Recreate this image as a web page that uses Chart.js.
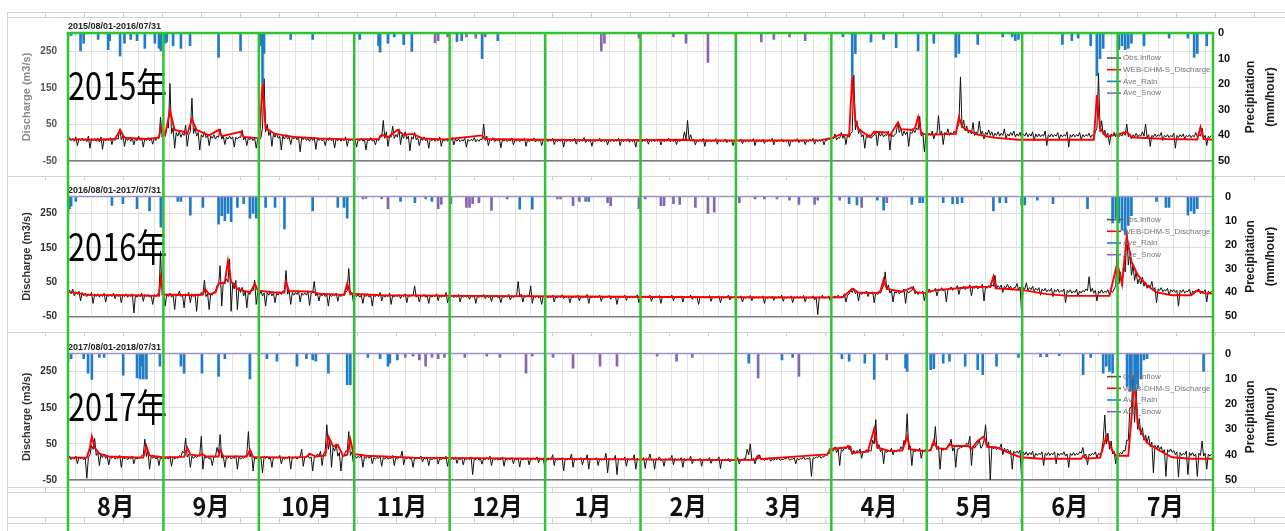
<!DOCTYPE html>
<html><head><meta charset="utf-8">
<script src="https://cdn.jsdelivr.net/npm/chart.js@4.4.1/dist/chart.umd.min.js"></script>
<style>
html,body{margin:0;padding:0;background:#fff;overflow:hidden}
#wrap{position:relative;width:1285px;height:531px}
canvas{position:absolute;left:0}
</style></head>
<body><div id="wrap">
<canvas id="bg" width="1285" height="531" style="top:0"></canvas>
<canvas id="c1" width="1285" height="178" style="top:0"></canvas>
<canvas id="c2" width="1285" height="157" style="top:178px"></canvas>
<canvas id="c3" width="1285" height="196" style="top:335px"></canvas>
</div>
<script>
// ---------- DATA ----------
const monthLabels = ['8月','9月','10月','11月','12月','1月','2月','3月','4月','5月','6月','7月'];
const leftTicks = [-50, 50, 150, 250];
const rightTicks = [0, 10, 20, 30, 40, 50];
const periodTitles = ['2015/08/01-2016/07/31','2016/08/01-2017/07/31','2017/08/01-2018/07/31'];
const yearLabels = ['2015年','2016年','2017年'];
const seriesNames = ['Obs.Inflow','WEB-DHM-S_Discharge','Ave_Rain','Ave_Snow'];

// observed inflow, daily [min, max] of hourly values (m3/s), day 0 = Aug 1
const obs2015 = [
[5,14],[6,12],[4,16],[-8,12],[6,13],[5,11],[3,18],[-15,12],[6,12],[4,13],[2,16],[-18,11],[5,12],[6,14],[-5,12],[6,12],[10,38],[8,20],[-10,13],[6,14],[4,12],[-6,12],[5,18],[6,12],[-12,12],[6,14],[5,12],[-4,13],[6,16],[12,70],[15,30],
[18,45],[40,162],[25,40],[-15,28],[18,30],[15,26],[20,48],[-10,22],[30,122],[25,40],[18,28],[-20,22],[15,30],[14,20],[-8,18],[12,22],[10,18],[15,38],[10,18],[-5,15],[10,18],[10,16],[-12,15],[10,16],[14,34],[8,16],[-8,14],[8,14],[6,12],[-15,12],
[8,14],[40,175],[30,50],[20,30],[-10,24],[15,26],[12,18],[-20,18],[10,22],[10,16],[-5,15],[10,18],[8,14],[-25,14],[8,16],[6,12],[4,14],[6,15],[-18,12],[6,12],[5,10],[-8,12],[6,14],[5,10],[-14,12],[5,12],[4,10],[5,16],[-10,10],[5,10],[4,9],
[-12,10],[5,12],[4,9],[-20,10],[5,14],[4,9],[-6,10],[5,20],[15,61],[12,30],[-10,18],[15,45],[12,22],[15,38],[-5,22],[12,30],[10,18],[-22,16],[10,28],[8,14],[-8,12],[6,16],[5,10],[-15,12],[5,12],[4,9],[5,16],[-10,10],[4,10],[4,8],
[5,14],[-6,10],[4,10],[3,8],[5,12],[-12,9],[4,9],[5,14],[2,9],[4,10],[8,51],[6,18],[-8,10],[5,14],[3,8],[5,12],[-14,9],[4,9],[3,8],[5,13],[-6,9],[4,10],[3,8],[5,12],[-10,9],[3,8],[5,13],[2,8],[4,10],[-8,8],[4,9],
[3,8],[4,12],[-5,8],[3,8],[4,11],[-12,8],[3,9],[3,7],[4,12],[-4,8],[3,8],[4,14],[0,8],[3,9],[-10,8],[3,8],[4,12],[2,8],[3,9],[-6,8],[3,10],[3,7],[4,12],[-8,8],[3,7],[4,11],[1,8],[3,8],[-12,8],[3,9],[3,7],
[4,11],[-4,8],[3,8],[3,7],[4,10],[-6,8],[3,7],[4,12],[2,8],[3,8],[-5,8],[3,9],[6,30],[10,61],[8,22],[4,10],[-6,8],[3,9],[4,12],[-10,8],[3,8],[3,7],[4,11],[-4,8],[3,7],[4,10],[0,7],[3,8],[-8,7],
[3,7],[4,10],[-3,8],[3,8],[3,7],[4,11],[-8,7],[3,7],[3,9],[-2,7],[3,8],[4,12],[-6,7],[3,7],[4,10],[2,7],[3,8],[-10,7],[3,7],[4,11],[0,7],[3,8],[-5,7],[3,9],[4,12],[-4,8],[3,8],[4,10],[-6,8],[6,12],[8,16],
[10,24],[8,14],[12,28],[12,22],[-5,22],[15,25],[30,185],[35,60],[25,38],[16,22],[-15,20],[14,22],[12,18],[20,32],[-8,28],[18,26],[16,22],[20,32],[-20,24],[16,22],[25,56],[28,40],[18,32],[22,30],[-10,30],[25,35],[28,40],[35,72],[18,28],[-25,24],
[18,26],[20,32],[10,26],[25,74],[22,32],[-5,28],[22,38],[20,28],[22,32],[24,42],[50,180],[40,62],[32,46],[26,34],[24,55],[20,30],[25,59],[22,32],[10,28],[22,35],[20,30],[15,26],[20,30],[18,26],[20,38],[10,24],[18,28],[20,32],[16,24],[18,28],[12,24],
[18,28],[16,24],[18,30],[5,24],[16,24],[16,22],[18,32],[-8,22],[16,24],[16,22],[18,28],[10,22],[16,22],[18,30],[-12,22],[16,24],[16,22],[18,28],[8,22],[16,22],[18,26],[14,22],[18,30],[40,190],[30,60],[22,34],[18,26],[-5,24],[18,28],[16,24],
[16,22],[18,30],[20,51],[16,24],[10,22],[16,26],[16,22],[18,30],[18,51],[14,22],[-10,20],[16,24],[16,22],[18,28],[6,20],[16,22],[14,20],[16,26],[-15,20],[14,22],[16,24],[10,20],[16,22],[14,20],[16,28],[16,22],[18,40],[12,20],[-8,18],[14,20]];
const obs2016 = [
[14,26],[16,30],[10,22],[14,24],[-5,20],[10,18],[8,16],[10,20],[-12,16],[8,16],[6,14],[8,18],[-8,14],[8,14],[8,18],[2,14],[8,14],[-10,14],[8,16],[6,12],[8,16],[-40,12],[6,14],[8,18],[-6,14],[8,14],[6,12],[-15,14],[8,16],[12,140],[12,22],
[-20,16],[8,18],[6,14],[-30,16],[10,24],[8,14],[-25,16],[10,20],[-10,16],[8,16],[-35,16],[10,20],[14,56],[8,16],[-30,16],[12,22],[20,40],[40,98],[-20,50],[45,60],[50,118],[-35,45],[30,55],[-30,35],[20,35],[10,24],[-25,22],[14,28],[25,56],[-15,22],
[12,24],[10,18],[-20,20],[12,22],[10,18],[-10,18],[12,20],[14,24],[25,84],[15,24],[-15,20],[12,20],[14,24],[-8,18],[12,18],[12,22],[-18,18],[20,52],[10,18],[-5,16],[10,16],[8,14],[-20,14],[8,14],[10,18],[-6,14],[8,14],[10,20],[25,90],[12,20],[-10,14],
[8,14],[6,12],[-12,14],[8,16],[6,12],[-20,12],[8,14],[8,20],[-5,12],[6,12],[8,18],[-15,12],[6,12],[8,14],[2,12],[8,16],[-10,12],[8,12],[10,39],[6,12],[-8,12],[8,14],[6,10],[-12,12],[6,12],[8,16],[-4,12],[6,10],[8,20],[-10,10],
[6,12],[5,10],[6,14],[-8,10],[6,10],[6,12],[0,10],[6,11],[-12,10],[5,10],[6,14],[2,10],[5,9],[-6,10],[6,12],[5,8],[-10,10],[5,10],[6,14],[-2,9],[5,9],[10,52],[8,15],[-8,10],[6,12],[10,39],[-12,10],[5,10],[5,8],[-15,10],[5,10],
[4,8],[5,12],[-8,8],[4,9],[5,13],[2,8],[5,10],[-10,8],[4,9],[5,12],[-4,8],[4,8],[5,14],[-12,8],[4,9],[4,8],[5,12],[-6,8],[4,8],[5,11],[0,8],[4,9],[-15,8],[4,8],[5,12],[-3,8],[4,9],[4,8],[5,13],[-10,8],[4,8],
[4,8],[5,12],[-6,8],[4,8],[5,11],[-12,8],[4,8],[4,7],[5,12],[-4,8],[4,8],[5,10],[-8,8],[4,7],[5,12],[0,8],[4,8],[-15,8],[4,9],[4,7],[5,11],[-6,8],[4,8],[5,10],[-10,8],[4,7],[5,12],[-2,8],[4,8],
[3,7],[4,10],[-8,7],[3,7],[4,11],[-4,7],[3,8],[3,7],[4,10],[-12,7],[3,7],[4,9],[-3,7],[3,8],[4,12],[-6,7],[3,7],[4,10],[-10,7],[3,8],[3,7],[4,11],[-8,7],[3,7],[4,10],[-2,7],[-45,8],[4,12],[3,7],[4,10],[-5,8],
[4,10],[5,12],[4,9],[6,16],[-8,12],[15,26],[20,32],[16,24],[-5,20],[14,20],[16,24],[8,20],[16,22],[-10,20],[14,20],[18,30],[40,80],[28,42],[18,26],[-8,22],[18,26],[16,22],[22,30],[-12,24],[18,24],[25,38],[16,24],[14,22],[18,24],[-5,22],
[22,30],[20,26],[24,32],[10,28],[26,34],[24,30],[-8,30],[28,36],[26,32],[30,40],[14,34],[30,38],[28,34],[32,42],[10,36],[32,40],[30,36],[34,44],[-5,38],[32,40],[34,42],[38,70],[32,40],[34,42],[20,38],[34,44],[32,38],[26,34],[34,46],[28,36],[-40,34],
[30,48],[26,34],[28,38],[24,32],[26,34],[12,30],[24,32],[22,28],[24,32],[8,28],[22,30],[20,26],[22,30],[-10,26],[20,28],[18,24],[20,30],[10,24],[18,26],[22,30],[25,66],[22,32],[18,26],[-5,24],[18,28],[18,24],[20,28],[12,24],[20,30],[40,165],
[45,80],[40,100],[80,200],[100,140],[70,100],[55,80],[45,60],[45,65],[38,50],[32,42],[35,52],[26,34],[-10,30],[26,34],[22,28],[24,32],[12,28],[22,28],[20,26],[-20,26],[20,28],[18,24],[22,30],[10,24],[20,26],[22,30],[16,24],[20,28],[-8,24],[18,24]];
const obs2017 = [
[8,16],[6,12],[8,16],[-5,14],[8,14],[6,12],[-45,12],[20,45],[35,65],[18,28],[-10,20],[12,22],[10,16],[-8,14],[10,16],[8,12],[10,18],[-15,14],[8,14],[6,12],[8,16],[-5,12],[8,12],[10,18],[20,63],[15,30],[-20,16],[10,16],[8,14],[-10,14],[8,14],
[8,12],[8,16],[-12,14],[8,12],[10,18],[14,30],[25,66],[14,22],[-15,16],[10,16],[12,18],[20,71],[-20,18],[10,16],[8,12],[-10,14],[14,40],[25,76],[10,18],[-15,14],[10,16],[8,12],[10,18],[-20,14],[8,12],[10,16],[20,84],[14,30],[-25,14],[8,14],
[8,12],[-30,14],[10,16],[8,12],[-15,14],[10,14],[10,18],[-5,12],[8,12],[10,16],[-20,14],[10,14],[8,12],[14,35],[-12,14],[12,18],[10,14],[-25,14],[14,22],[16,30],[-10,22],[30,103],[35,60],[-15,40],[30,50],[16,26],[-25,20],[16,30],[30,84],[18,28],[-5,18],
[10,16],[12,20],[-15,14],[10,14],[10,18],[-5,12],[8,12],[10,16],[-12,12],[8,14],[8,10],[10,18],[-10,12],[8,12],[12,30],[-8,12],[8,14],[8,10],[-15,12],[8,12],[8,16],[0,10],[8,12],[-10,10],[6,10],[8,14],[-6,10],[6,11],[8,16],[-12,10],
[6,10],[6,14],[-4,10],[6,12],[-8,10],[6,10],[6,14],[-35,10],[6,12],[5,8],[-6,10],[6,12],[6,16],[-10,10],[5,10],[5,8],[6,14],[-12,10],[5,9],[6,12],[-5,10],[5,10],[-14,10],[5,9],[6,12],[-8,10],[5,10],[6,14],[-2,10],[5,9],[-15,10],
[5,10],[6,20],[-10,10],[5,8],[6,12],[-25,10],[5,10],[6,22],[-15,10],[5,8],[6,12],[-8,10],[6,20],[-20,10],[5,9],[6,12],[-10,10],[5,8],[6,24],[-30,10],[5,10],[6,18],[-35,10],[5,9],[6,14],[-12,10],[5,9],[6,20],[-20,10],[5,8],[6,12],
[-18,10],[6,22],[4,8],[-20,10],[6,14],[4,8],[-12,10],[5,10],[6,18],[-8,10],[4,8],[6,12],[-15,10],[4,9],[6,16],[-5,8],[4,8],[5,10],[-12,8],[4,8],[6,12],[-4,8],[4,7],[6,14],[-18,8],[4,8],[5,10],[0,8],[4,7],
[4,12],[-6,8],[4,10],[10,35],[20,50],[6,10],[-5,10],[8,20],[5,10],[4,8],[6,12],[2,8],[5,9],[6,12],[4,8],[6,10],[8,14],[5,8],[8,12],[-5,10],[6,10],[8,14],[6,10],[8,12],[-40,12],[10,14],[12,18],[10,14],[14,20],[18,26],[22,32],
[30,42],[26,36],[-10,34],[30,40],[36,46],[34,44],[20,32],[24,32],[28,36],[10,30],[26,34],[26,32],[30,60],[50,117],[36,48],[28,36],[-5,32],[26,32],[28,38],[20,32],[28,34],[30,42],[34,60],[50,133],[34,44],[-10,34],[28,34],[30,38],[10,32],[28,36],
[28,34],[32,50],[45,98],[34,44],[-20,38],[32,38],[36,44],[45,63],[30,40],[-15,36],[36,42],[40,46],[44,52],[48,71],[-10,44],[38,46],[48,62],[38,44],[60,103],[42,55],[-50,42],[36,42],[34,40],[38,50],[20,38],[30,36],[26,32],[-20,30],[24,30],[24,32],[-48,28],
[20,28],[18,26],[20,30],[10,24],[18,24],[20,28],[-10,24],[18,26],[18,24],[20,28],[-5,24],[18,24],[20,28],[16,22],[-15,24],[18,26],[18,24],[20,28],[24,40],[16,22],[-8,22],[18,24],[20,28],[12,24],[20,28],[60,130],[50,80],[35,58],[22,30],[-5,26],
[20,26],[22,32],[30,60],[60,150],[150,240],[110,200],[90,120],[75,95],[60,75],[55,72],[42,55],[-30,46],[36,46],[34,42],[26,34],[-40,34],[28,36],[26,32],[20,28],[-42,26],[18,24],[20,30],[-35,26],[18,26],[16,22],[-40,24],[18,58],[16,24],[-20,22],[16,22]];

// simulated discharge [day, m3/s]
const web2015 = [[0,9],[10,8],[15,10],[16.6,35],[18,14],[25,10],[29,14],[29.6,43],[31,22],[32.5,88],[34,35],[36.7,30],[38,24],[39.5,64],[41,35],[45,20],[48,35],[49,18],[55,30],[56,16],[61,12],[62,162],[63,40],[66,24],[72,16],[80,12],[90,9],[99,10],[100,22],[102,15],[105,35],[107,22],[110,24],[113,12],[120,9],[132,20],[133,10],[150,8],[170,7],[197,8],[200,6],[230,6],[240,7],[244,14],[246,22],[249,20],[250,180],[251,60],[252,37],[255.6,16],[257,30],[261,28],[262,20],[264.6,56],[265.5,37],[269,35],[270,40],[271,70],[272,24],[276,22],[283,24],[284,70],[285,45],[286,37],[290,22],[295,14],[303,8],[327,8],[328,130],[329,40],[331,16],[337.6,29],[339,15],[350,10],[360,9],[361,43],[362,10],[365,8]];
const web2016 = [[0,22],[3,18],[6,13],[20,12],[29,10],[29.6,63],[30.5,14],[40,12],[43,14],[43.7,31],[45,14],[47,20],[48,45],[50,50],[51,112],[52,50],[53,45],[54,30],[58,20],[59.6,45],[60.5,25],[66,20],[69,20],[69.5,50],[70.5,24],[78,22],[80,16],[88,13],[89,45],[90,16],[100,12],[130,10],[160,8],[210,6],[240,5],[247,6],[250,31],[252,20],[258,18],[259,25],[260,58],[261,30],[266,22],[269,35],[270.5,20],[273,18],[276,26],[283,32],[287,35],[294,37],[295,66],[295.7,32],[300,30],[305,26],[312,15],[319,10],[332,10],[334.5,106],[336,44],[337.5,184],[339,110],[341,71],[344,40],[347,20],[352,12],[358,12],[360,26],[362,18],[365,17]];
const web2017 = [[0,12],[6,12],[7,40],[7.6,71],[8.5,40],[10,23],[13,15],[24,12],[25,44],[26,18],[30,13],[37,14],[38,39],[39,20],[42,17],[42.7,23],[44,15],[48,15],[48.5,33],[49.5,16],[57,15],[58,33],[59,14],[70,12],[76,14],[77,23],[79,15],[82,18],[83,71],[84.5,44],[86,47],[87.7,17],[89,20],[90,63],[91,22],[95,17],[110,12],[140,10],[180,7],[210,5],[219,6],[220,17],[221,8],[227,12],[242,21],[243,36],[248,40],[249,44],[250,25],[254,28],[255,30],[257,92],[258,40],[262,30],[266,32],[267.5,70],[268.5,35],[272,31],[275,32],[276,58],[277,38],[280,36],[281,50],[282,44],[286,44],[287,44],[288,36],[290,58],[292,71],[293,42],[296,40],[300,25],[303.6,13],[310,9],[323,9],[323.6,17],[324.5,9],[329,12],[331,71],[333,30],[334,17],[338,17],[339,120],[340,230],[341,103],[342,84],[344,53],[348,31],[352,13],[358,9],[365,9]];

// precipitation [day, mm/hour]
const rain2015 = [[0,1.5],[1,1],[4,7],[5,4],[9.6,2.5],[12.8,6.5],[13.3,3],[16.6,9],[18,4],[20,2.5],[22,3],[24.5,6],[27.7,4],[29,6],[29.6,7],[31,4],[31.5,3.5],[33.5,5],[36,6],[38.9,5],[48,9.5],[55,7],[61.5,5],[62,19.7],[62.5,8],[71,2.5],[78,2.5],[93,2.5],[99,5],[99.5,7.5],[102,4],[104,1.5],[107,4.5],[109.6,7.2],[124,3.4],[125.5,3],[132,10],[137,3],[247,1.5],[250,17],[251,8],[256,3.5],[260,2.5],[264,5.7],[271,7],[276,4],[283,9.5],[284,8],[290,4.5],[298,1.5],[301,1.5],[302,3],[303,2.5],[317,4.5],[320,3],[322,2],[326,5],[328,16.7],[329,10],[330,6],[335,6.5],[336,5],[337,6.5],[338,6],[339,4],[343,5],[351,2],[357,2],[359,9.5],[360,8],[363,5]];
const snow2015 = [[117,3.8],[118,3],[121,1.5],[127,1.5],[130,2],[133,1.5],[170,7],[171,4],[182,2],[193,1.5],[197,4],[204,11.5],[221,3.5],[225,2.5],[230,1.5],[235,3]];
const rain2016 = [[0,7],[0.5,5],[1,4],[2.5,2],[14,3.7],[17.5,3],[22,5],[26,6],[29.6,12.8],[35,2],[36,2],[39,7.7],[43,4.5],[48,11.5],[49,8],[50,10],[51,7],[52,10.5],[54,4.5],[56,3],[58,9],[59,7],[60,9],[63,4.5],[66,4.5],[69,13.5],[78,6],[86,4.5],[88,4.5],[89,9],[106,2],[110.6,2.5],[116,2],[144,5.2],[148,5.2],[166,2],[249,3],[251.5,3.5],[258,1.5],[260,5.7],[269,3.3],[271.5,2.5],[272.5,2.5],[279,2.5],[282,3],[283.5,3],[285,2.5],[295,6],[297,2.5],[299,2.5],[304,3.5],[305,3.5],[309,1.5],[314,3],[325,5],[333,11],[334,9],[335,11],[336,14],[337,16],[338,12],[339,8],[347,2],[350,4.5],[351,4.5],[357,7.7],[358,6],[359,7],[360,5]];
const snow2016 = [[94,1],[95,0.8],[100,1],[102,5],[114,1],[118,5],[119,3.3],[122,3],[127,4.5],[128,4.5],[129,3],[131,2.5],[135,5.8],[140,1],[156,1],[157,1],[161,3.8],[163,2],[165,2],[172,2.5],[173,3.8],[182,5],[184,1],[189,3.8],[190,3.8],[193,3],[195,3.3],[200,4.5],[204,7],[206,6.5],[214,2.5],[219,1],[222,1],[226,1],[230,1.5],[233,3.3],[238,3.3],[239,1.5],[246,1.5],[253,4.5],[261,2.5]];
const rain2017 = [[0,3],[1,2],[5,2],[6.4,7.7],[7.6,10.2],[10,1.5],[11.5,1.5],[17.6,8.5],[22,9.6],[23,10],[23.7,5],[24,10],[25,10],[29.3,5],[36,5],[37,7.7],[42.7,7.7],[48,9],[50,2],[58,10],[63.4,2],[66.6,3],[73,5],[76,2],[78,2.5],[79,3],[83,7.7],[89,12.3],[90,12.3],[95.6,1.5],[99.5,2],[102,5],[102.6,3.8],[105,2.5],[217,3.8],[227.6,2.5],[231,1.5],[246.7,2],[249,3],[254,3.8],[257,10.2],[267,5.8],[267.5,7],[275,6.4],[276,6],[279,3.8],[281,3],[286,5],[290,6.4],[291.6,8.3],[296,5],[303,1.5],[310,1.2],[312,1.2],[316,0.8],[323.6,8.3],[326,1.5],[330,7.7],[331,5],[332,7],[333,7.7],[337.6,13],[338.5,15],[339,14],[340,15],[340.5,12],[341,14],[342,10],[343,2.5],[344,2],[362,7]];
const snow2017 = [[107.5,1.5],[110,1],[112,2.5],[114,5],[116,1.5],[118,2],[120,1.5],[126.5,1.5],[133.5,1],[137.7,1.5],[146,7.7],[148,1],[154.6,1.5],[161,5.8],[169.6,5],[175,5],[187.8,1],[194,3],[199,1.5],[220,9.6],[233,9],[261,2.5],[276,1]];

// ---------- STYLE ----------
const FONT = '"Liberation Sans", Arial, sans-serif';
const CJK = '"Noto Sans CJK JP", "Noto Sans CJK SC", sans-serif';
const DAYS = 365;
const COLORS = {obs:'#111111', web:'#ff0000', rain:'#1f7cc9', snow:'#8467b3', green:'#2ec42e', zero:'#9d94c6'};
Chart.defaults.font.family = FONT;

// ---------- spreadsheet background ----------
(function(){
  const g = document.getElementById('bg').getContext('2d');
  g.fillStyle = '#fff'; g.fillRect(0,0,1285,531);
  g.strokeStyle = '#d2d2d2'; g.lineWidth = 1;
  const hl = (y)=>{g.beginPath();g.moveTo(7,y);g.lineTo(1285,y);g.stroke();};
  const vl = (x,a,b)=>{g.beginPath();g.moveTo(x,a);g.lineTo(x,b);g.stroke();};
  vl(7.5,12,531);
  [12.5,17.5,176.5,332.5,487.5,492.5,517.5,523.5].forEach(hl);
  for (let x=45.5; x<1285; x+=39){ vl(x,12,17); vl(x,176,180); vl(x,332,336); vl(x,487,492); vl(x,517,523); }
})();

const pairs = a => a.map(p => ({x:p[0], y:p[1]}));
// daily min / max plotted as a continuous trace: min early in the day, max at mid-day
const dailyTrace = a => a.flatMap((r, i) => [{x:i, y:r[0]}, {x:i + 0.5, y:r[1]}]);

const decoPlugin = {
  id: 'deco',
  afterDraw(chart, args, o) {
    const {ctx, chartArea: ca, scales: {x, y2}} = chart;
    const H = chart.height;
    ctx.save();
    const y0 = y2.getPixelForValue(0);
    ctx.strokeStyle = COLORS.zero; ctx.lineWidth = 1.5;
    ctx.beginPath(); ctx.moveTo(ca.left, y0); ctx.lineTo(ca.right, y0); ctx.stroke();
    ctx.fillStyle = '#222'; ctx.font = 'bold 9px ' + FONT; ctx.textAlign = 'left'; ctx.textBaseline = 'alphabetic';
    ctx.fillText(o.title, ca.left, ca.top - 4);
    // legend
    const order = [3, 2, 0, 1];
    const legCols = ['#555', COLORS.web, COLORS.rain, COLORS.snow];
    ctx.font = '8px ' + FONT; ctx.textBaseline = 'middle';
    order.forEach((di, k) => {
      const ly = ca.top + o.legTop + k * 11.7;
      const lx = ca.right - 106;
      ctx.strokeStyle = legCols[k]; ctx.lineWidth = 1.6;
      ctx.beginPath(); ctx.moveTo(lx, ly); ctx.lineTo(lx + 14, ly); ctx.stroke();
      ctx.fillStyle = '#777';
      ctx.fillText(chart.data.datasets[di].label, lx + 16, ly);
    });
    // right axis title
    ctx.fillStyle = '#1a1a1a'; ctx.font = 'bold 12px ' + FONT; ctx.textAlign = 'center'; ctx.textBaseline = 'middle';
    const my = (ca.top + ca.bottom) / 2;
    [['Precipitation', 38], ['(mm/hour)', 58]].forEach(([t, dx]) => {
      ctx.save(); ctx.translate(ca.right + dx, my); ctx.rotate(-Math.PI / 2); ctx.fillText(t, 0, 0); ctx.restore();
    });
    // big year label
    ctx.save();
    ctx.font = '38px ' + CJK; ctx.fillStyle = '#000'; ctx.textAlign = 'left'; ctx.textBaseline = 'alphabetic';
    const w = ctx.measureText(o.year).width;
    ctx.translate(ca.left, o.yearBase);
    ctx.scale(99 / w, 1);
    ctx.fillText(o.year, 0, 0);
    ctx.restore();
    // green month frame
    ctx.strokeStyle = COLORS.green; ctx.lineWidth = 2.5;
    const top = o.greenTop ? ca.top : 0;
    for (let i = 0; i <= 12; i++) {
      const gx = x.getPixelForValue(i * DAYS / 12);
      ctx.beginPath(); ctx.moveTo(gx, top); ctx.lineTo(gx, H); ctx.stroke();
    }
    if (o.greenTop) {
      ctx.beginPath(); ctx.moveTo(x.getPixelForValue(0) - 1.25, ca.top); ctx.lineTo(x.getPixelForValue(DAYS) + 1.25, ca.top); ctx.stroke();
    }
    // month labels
    if (o.months) {
      ctx.fillStyle = '#111'; ctx.textAlign = 'center'; ctx.textBaseline = 'alphabetic';
      monthLabels.forEach((m, i) => {
        ctx.font = '26px ' + CJK;
        const wn = ctx.measureText(m).width;
        ctx.font = 'bold 26px ' + CJK;
        const wb = ctx.measureText(m).width;
        ctx.save();
        ctx.translate(x.getPixelForValue((i + 0.5) * DAYS / 12), o.monthBase);
        ctx.scale(0.92 * wn / wb, 1);
        ctx.fillText(m, 0, 0);
        ctx.restore();
      });
    }
    ctx.restore();
  }
};

function build(id, d) {
  return new Chart(document.getElementById(id), {
    type: 'line',
    data: {
      datasets: [
        {type:'bar', label:seriesNames[2], data:pairs(d.rain), yAxisID:'y2', backgroundColor:COLORS.rain, borderWidth:0, barThickness:2, grouped:false},
        {type:'bar', label:seriesNames[3], data:pairs(d.snow), yAxisID:'y2', backgroundColor:COLORS.snow, borderWidth:0, barThickness:2, grouped:false},
        {type:'line', label:seriesNames[1], data:pairs(d.web), yAxisID:'y', borderColor:COLORS.web, borderWidth:1.9, pointRadius:0, tension:0},
        {type:'line', label:seriesNames[0], data:dailyTrace(d.obs), yAxisID:'y', borderColor:COLORS.obs, borderWidth:1, pointRadius:0, tension:0}
      ]
    },
    options: {
      responsive:false, animation:false, devicePixelRatio:1, events:[],
      layout:{padding:{top:d.padTop, bottom:d.padBottom, left:0, right:0}},
      plugins:{legend:{display:false}, tooltip:{enabled:false}, deco:d.deco},
      scales:{
        x:{type:'linear', min:0, max:DAYS, offset:false,
           ticks:{display:false, stepSize:5},
           grid:{color:'#e3e3e3', lineWidth:1, drawTicks:false},
           border:{display:true, color:'#7c7c7c', width:1.5},
           afterFit(s){ s.height = 0; }},
        y:{position:'left', min:-50, max:300,
           afterBuildTicks(s){ s.ticks = leftTicks.map(v=>({value:v})); },
           ticks:{padding:11, color:d.tickColor, font:{size:10, weight:'bold'}},
           grid:{color:'#dcdcdc', drawTicks:false},
           border:{display:false},
           title:{display:true, text:'Discharge (m3/s)', color:d.titleColor, font:{size:11, weight:'bold'}, padding:{top:20, bottom:0}},
           afterFit(s){ s.width = 68; }},
        y2:{position:'right', min:0, max:50, reverse:true,
           afterBuildTicks(s){ s.ticks = rightTicks.map(v=>({value:v})); },
           ticks:{padding:d.rightPad, color:'#111', font:{size:11, weight:'bold'}},
           grid:{display:false, drawTicks:false},
           border:{display:false},
           afterFit(s){ s.width = 72; }}
      }
    },
    plugins:[decoPlugin]
  });
}

build('c1', {obs:obs2015, web:web2015, rain:rain2015, snow:snow2015, padTop:33, padBottom:13,
  tickColor:'#555', titleColor:'#8a8a8a', rightPad:5,
  deco:{title:periodTitles[0], year:yearLabels[0], yearBase:100, legTop:25, greenTop:true, months:false}});
build('c2', {obs:obs2016, web:web2016, rain:rain2016, snow:snow2016, padTop:17, padBottom:10,
  tickColor:'#333', titleColor:'#333', rightPad:12,
  deco:{title:periodTitles[1], year:yearLabels[1], yearBase:83, legTop:23, greenTop:false, months:false}});
build('c3', {obs:obs2017, web:web2017, rain:rain2017, snow:snow2017, padTop:15, padBottom:51,
  tickColor:'#333', titleColor:'#333', rightPad:12,
  deco:{title:periodTitles[2], year:yearLabels[2], yearBase:86, legTop:23, greenTop:false, months:true, monthBase:181}});
</script>
</body></html>
